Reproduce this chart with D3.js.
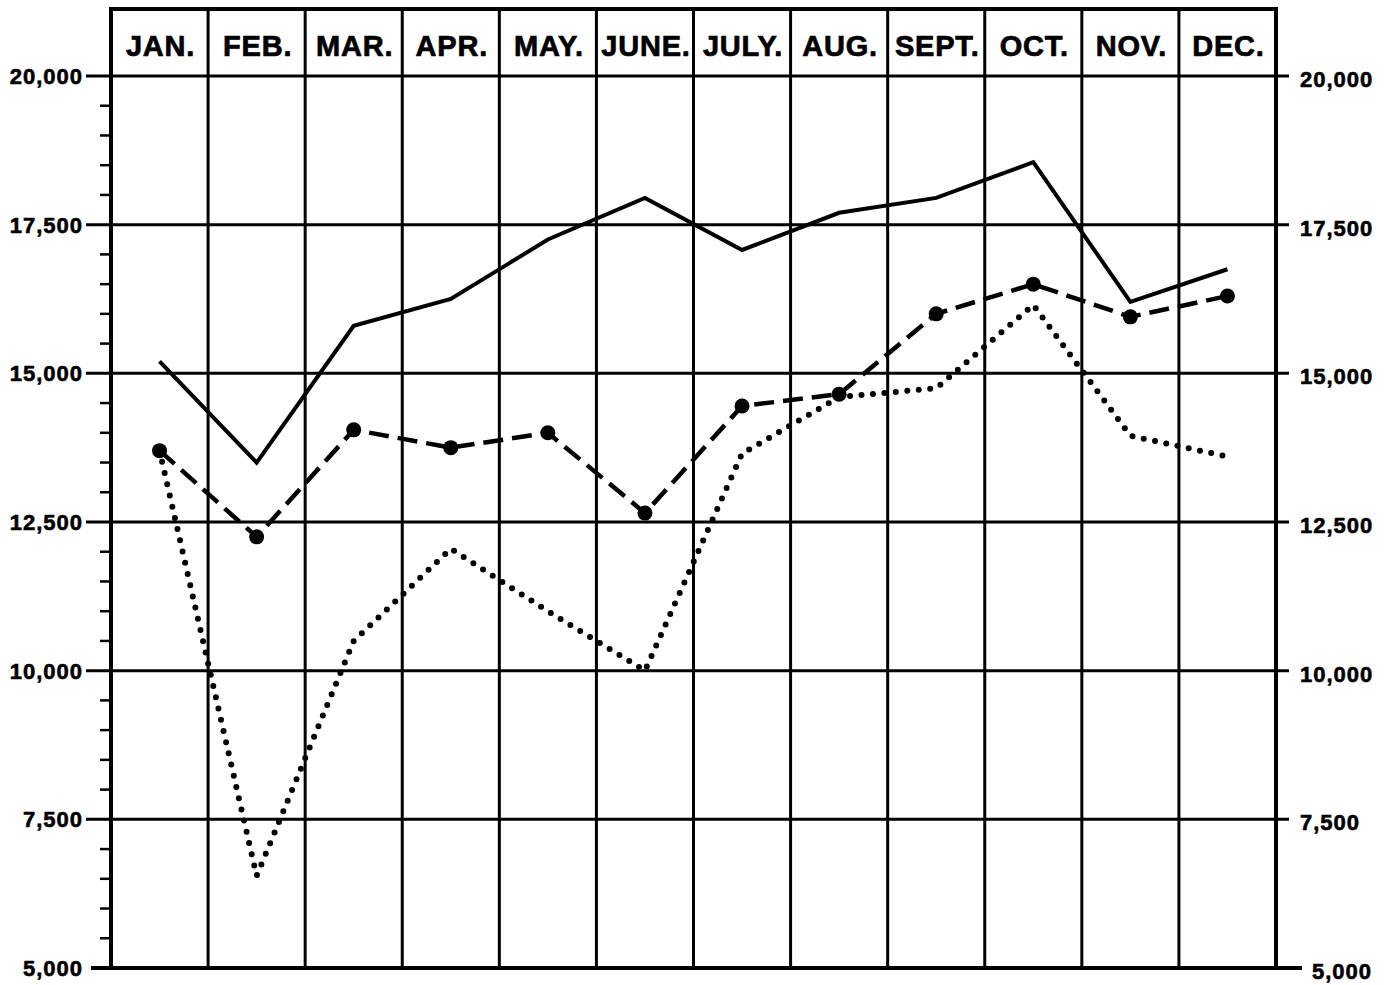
<!DOCTYPE html>
<html>
<head>
<meta charset="utf-8">
<script src="https://cdn.jsdelivr.net/npm/d3@7"></script>
<style>
  body { margin: 0; background: #fff; }
  svg { display: block; }
  .month { font-family: 'Liberation Sans', Arial, sans-serif; font-weight: bold; font-size: 29px; letter-spacing: 0.8px; stroke: #000; stroke-width: 0.7px; }
  .tick-label { font-family: 'Liberation Sans', Arial, sans-serif; font-weight: bold; font-size: 22px; letter-spacing: 1px; stroke: #000; stroke-width: 0.6px; }
</style>
</head>
<body>
<div class="container"></div>
<script>
const months = ['JAN.', 'FEB.', 'MAR.', 'APR.', 'MAY.', 'JUNE.', 'JULY.', 'AUG.', 'SEPT.', 'OCT.', 'NOV.', 'DEC.'];
const solidSeries = [15200, 13500, 15800, 16250, 17250, 17950, 17075, 17700, 17950, 18550, 16200, 16750];
const dashedSeries = [13700, 12250, 14050, 13750, 14000, 12650, 14450, 14650, 16000, 16500, 15950, 16300];
const dottedSeries = [13700, 6550, 10500, 12050, 11000, 10000, 13650, 14600, 14750, 16150, 13950, 13600];
const majorTicks = [5000, 7500, 10000, 12500, 15000, 17500, 20000];
const minorStep = 500;

const w = 1392;
const h = 985;
const frameLeft = 111;
const frameRight = 1276;
const frameTop = 9;
const yTop = 76;
const yBottom = 968;

const svg = d3
  .select('.container')
  .append('svg')
  .attr('width', w)
  .attr('height', h);

const xScale = d3.scaleBand().domain(months).range([frameLeft, frameRight]).padding(0);
const yScale = d3.scaleLinear().domain([5000, 20000]).range([yBottom, yTop]);

const fmt = d3.format(',');

// minor ticks on the left side only
const minorTicks = d3
  .range(5000, 20000, minorStep)
  .filter((v) => v % 2500 !== 0);

svg
  .append('g')
  .selectAll('line')
  .data(minorTicks)
  .enter()
  .append('line')
  .attr('x1', frameLeft - 11)
  .attr('x2', frameLeft)
  .attr('y1', (d) => yScale(d))
  .attr('y2', (d) => yScale(d))
  .attr('stroke', '#000')
  .attr('stroke-width', 2.5);

// horizontal grid lines, running out past the frame on both sides
svg
  .append('g')
  .selectAll('line')
  .data(majorTicks)
  .enter()
  .append('line')
  .attr('x1', (d) => (d === 5000 ? frameLeft - 20 : frameLeft - 25))
  .attr('x2', (d) => (d === 5000 ? frameRight + 26 : frameRight + 13))
  .attr('y1', (d) => yScale(d))
  .attr('y2', (d) => yScale(d))
  .attr('stroke', '#000')
  .attr('stroke-width', (d) => (d === 5000 ? 4 : 3));

// vertical month dividers
const bounds = months.map((m) => xScale(m)).concat([frameRight]);
svg
  .append('g')
  .selectAll('line')
  .data(bounds)
  .enter()
  .append('line')
  .attr('x1', (d) => d)
  .attr('x2', (d) => d)
  .attr('y1', frameTop)
  .attr('y2', yBottom)
  .attr('stroke', '#000')
  .attr('stroke-width', (d, i) => (i === 0 || i === bounds.length - 1 ? 4 : 3));

// top of the frame
svg
  .append('line')
  .attr('x1', frameLeft - 2)
  .attr('x2', frameRight + 2)
  .attr('y1', frameTop)
  .attr('y2', frameTop)
  .attr('stroke', '#000')
  .attr('stroke-width', 4);

// month headings
svg
  .append('g')
  .selectAll('text')
  .data(months)
  .enter()
  .append('text')
  .attr('class', 'month')
  .attr('x', (d) => xScale(d) + xScale.bandwidth() / 2 + 1)
  .attr('y', 56)
  .attr('text-anchor', 'middle')
  .text((d) => d);

// axis labels both sides
svg
  .append('g')
  .selectAll('text')
  .data(majorTicks)
  .enter()
  .append('text')
  .attr('class', 'tick-label')
  .attr('x', 83)
  .attr('y', (d) => yScale(d) + 8)
  .attr('text-anchor', 'end')
  .text((d) => fmt(d));

svg
  .append('g')
  .selectAll('text')
  .data(majorTicks)
  .enter()
  .append('text')
  .attr('class', 'tick-label')
  .attr('x', (d) => (d === 5000 ? 1312 : 1300))
  .attr('y', (d) => yScale(d) + 11)
  .attr('text-anchor', 'start')
  .text((d) => fmt(d));

const cx = (d, i) => xScale(months[i]) + xScale.bandwidth() / 2;
const line = d3
  .line()
  .x((d, i) => cx(d, i))
  .y((d) => yScale(d));

svg
  .append('path')
  .datum(solidSeries)
  .attr('d', line)
  .attr('fill', 'none')
  .attr('stroke', '#000')
  .attr('stroke-width', 4);

svg
  .append('path')
  .datum(dashedSeries)
  .attr('d', line)
  .attr('fill', 'none')
  .attr('stroke', '#000')
  .attr('stroke-width', 4.5)
  .attr('stroke-dasharray', '20 9');

svg
  .append('g')
  .selectAll('circle')
  .data(dashedSeries)
  .enter()
  .append('circle')
  .attr('cx', (d, i) => cx(d, i))
  .attr('cy', (d) => yScale(d))
  .attr('r', 7.5)
  .attr('fill', '#000');

svg
  .append('path')
  .datum(dottedSeries)
  .attr('d', line)
  .attr('fill', 'none')
  .attr('stroke', '#000')
  .attr('stroke-width', 6)
  .attr('stroke-linecap', 'round')
  .attr('stroke-dasharray', '0 11.5');
</script>
</body>
</html>
